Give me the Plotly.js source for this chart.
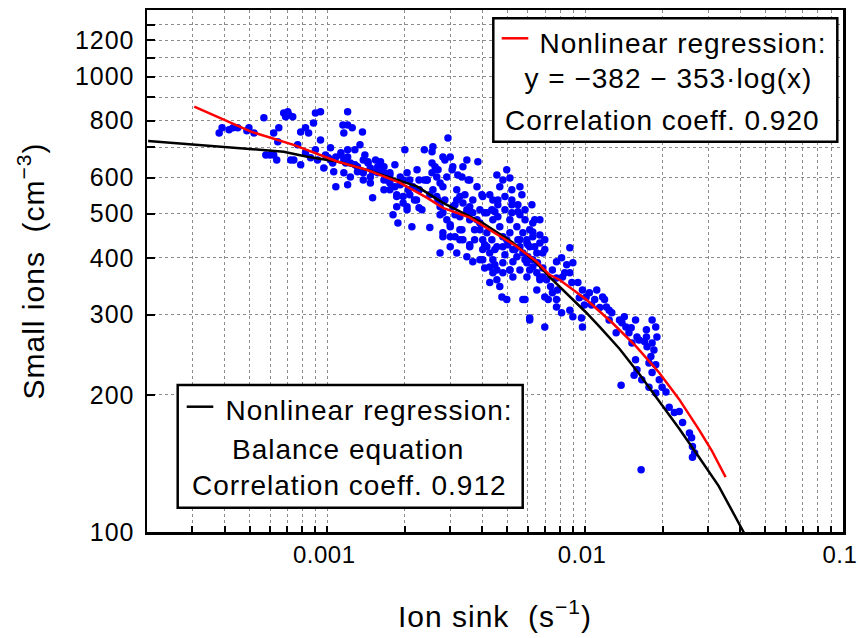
<!DOCTYPE html>
<html>
<head>
<meta charset="utf-8">
<script src="https://cdn.plot.ly/plotly-3.0.1.min.js"></script>
<style>
html,body{margin:0;padding:0;background:#fff;}
#chart{width:859px;height:638px;}
.main-svg text{letter-spacing:1px;}
.main-svg .xtick text{letter-spacing:0.5px;}
</style>
</head>
<body>
<div id="chart"></div>
<script>
// ---- scatter data: ion sink (s^-1) vs small ions (cm^-3) ----
const sinkX = [
0.000381,0.000391,0.000416,0.000431,0.00045,0.000488,0.000497,0.00052,0.000568,0.000578,
0.0006,0.00062,0.000637,0.00062,0.000643,0.000649,0.000678,0.00069,0.00071,0.000735,
0.000703,0.000768,0.000722,0.000742,0.000789,0.000789,0.000824,0.000847,0.000824,0.000862,
0.000885,0.0009,0.000942,0.000917,0.00097,0.00103,0.00105,0.00106,0.00108,0.00115,
0.00116,0.0012,0.0012,0.00125,0.0012,0.0012,0.00118,0.00116,0.0012,0.00123,
0.00131,0.00137,0.00134,0.00144,0.0015,0.00138,0.00147,0.0015,0.00161,0.00166,
0.00171,0.00175,0.0018,0.00188,0.00186,0.00197,0.00204,0.002,0.00204,0.00209,
0.00213,0.00218,0.00227,0.00233,0.00238,0.00244,0.00257,0.00255,0.00255,0.00262,
0.00266,0.00274,0.00281,0.00294,0.00281,0.00286,0.003,0.00307,0.00318,0.00336,
0.00348,0.00384,0.0025,0.00281,0.003,0.00327,0.00348,0.00367,0.00357,0.00391,
0.00416,0.00455,0.00467,0.0048,0.00497,0.00511,0.0052,0.00559,0.00569,0.00427,
0.00416,0.00439,0.00467,0.0048,0.00511,0.00544,0.00574,0.0061,0.0061,0.0065,
0.00427,0.00455,0.00467,0.00476,0.00497,0.00439,0.00574,0.0061,0.0065,0.00686,
0.00348,0.00367,0.00391,0.00318,0.00401,0.0048,0.00525,0.00559,0.00313,0.00333,
0.00373,0.00408,0.00447,0.00489,0.00535,0.00585,0.00357,0.00327,0.003,0.00274,
0.00391,0.00435,0.00502,0.00549,0.006,0.00459,0.0052,0.00585,0.00638,0.00668,
0.00408,0.00511,0.00447,0.00373,0.00313,0.00286,0.0025,0.00227,0.00209,0.00192,
0.00175,0.00161,0.00154,0.0014,0.00128,0.00113,0.00101,0.0009,0.000942,0.00128,
0.00183,0.00223,0.00269,0.00342,0.00398,0.00352,0.00321,0.00559,0.00622,0.00698,
0.00627,0.00638,0.00698,0.00595,0.0065,0.00686,0.00585,0.0061,0.00698,0.0072,
0.00811,0.00849,0.00873,0.00834,0.00775,0.00782,0.00775,0.00775,0.00811,0.00889,
0.00938,0.00873,0.00897,0.00969,0.00977,0.0095,0.00994,0.0104,0.0106,0.0109,
0.0114,0.0119,0.0124,0.0124,0.0132,0.0139,0.0142,0.0151,0.0157,0.0159,
0.0173,0.0182,0.0188,0.019,0.017,0.0174,0.018,0.0188,0.0157,0.0159,
0.0155,0.0166,0.0177,0.0188,0.0206,0.0199,0.0138,0.0212,0.0222,0.0232,
0.0239,0.0254,0.0259,0.0261,0.0266,0.0261,0.0165,0.00447,0.00439,
0.00138,0.00144,0.00147,0.00157,0.00166,0.00175,0.00166,0.00186,0.00197,0.00204,
0.00186,0.00222,0.00227,0.00244,0.00257,0.00266,0.00274,0.00281,0.00291,0.003,
0.00307,0.00318,0.00327,0.00336,0.00348,0.00357,0.00367,0.00381,0.00391,0.00401,
0.00416,0.00427,0.00439,0.00455,0.0048,0.00497,0.00511,0.00525,0.00544,0.00559,
0.00595,0.00627,0.00668,0.00686,0.00401,0.00427,0.00455,0.0048,0.00511,0.00525,
0.00595,0.00627,0.00668,0.00357,0.00336,0.00327,0.00313,0.003,0.00281,0.00274,
0.00408,0.00435,0.00459,0.00489,0.0052,0.00549,0.00585,0.00627,0.00668,0.00459,
0.00489,0.0052,0.00549,0.00401,0.00381,0.00357,0.00333,0.00305,0.00291,0.00269,
0.00255,0.00238,0.00227,0.00215,0.00206,0.00197,0.00192,0.00183,0.00175,0.00166,
0.00157,0.00147,0.00138,0.00131,0.00123,0.00116,0.00113,0.00108,0.00103,0.000985,
0.00559,0.00595,0.00574,0.006,0.00627,0.00654,0.0061,0.00668,0.00709,0.00735,
0.00747,0.00698,0.00747,0.00775,0.00818,0.00873,0.00897,0.00977,0.0101,0.0111,
0.0117,0.0121,0.0127,0.0136,0.0144,0.0148,0.0152,0.0162,0.0173,0.0182,
0.0185,0.0177,0.0182,0.0194
];
const ionsY = [
752,772,764,772,772,760,772,752,812,673,
673,673,656,752,719,772,832,816,824,816,
837,708,656,656,640,756,772,752,680,663,
791,832,837,656,630,698,646,618,573,783,
752,837,783,772,691,666,646,615,579,602,
618,756,708,650,618,593,584,542,650,615,
593,564,497,477,550,545,518,691,615,593,
468,536,515,510,691,593,701,684,646,634,
602,584,573,733,666,656,666,634,564,634,
656,650,466,454,445,492,502,536,485,477,
454,608,573,593,624,599,564,573,550,550,
502,485,468,445,485,468,454,461,423,410,
353,358,346,328,324,371,324,295,340,363,
402,392,396,410,417,390,392,376,523,461,
438,427,417,406,417,396,427,438,473,497,
510,438,427,438,427,523,523,510,485,449,
380,376,386,461,497,536,550,564,550,579,
608,624,656,673,691,673,663,691,726,640,
640,624,536,550,550,593,608,497,523,438,
456,423,417,390,371,380,324,292,282,324,
400,386,421,371,361,340,324,312,303,353,
353,307,297,295,282,327,315,335,315,324,
311,324,307,292,274,288,297,281,292,268,
278,292,282,268,262,255,243,233,239,227,
221,216,208,202,203,208,210,188,183,184,
174,165,161,154,149,146,137,505,536,
656,646,630,615,593,584,564,545,528,510,
518,536,564,593,564,545,518,502,485,468,
518,536,545,528,510,518,502,485,461,438,
423,410,396,423,423,438,454,417,402,423,
438,445,431,410,396,382,376,371,376,363,
363,382,358,423,438,461,445,423,445,410,
502,510,492,510,502,505,485,477,485,536,
545,536,523,545,573,593,602,624,602,624,
615,593,593,573,564,593,602,573,615,634,
634,602,615,634,646,656,680,666,656,673,
438,431,410,402,396,390,376,363,358,346,
335,328,376,392,363,371,390,340,328,340,
328,312,303,292,282,274,260,264,268,260,
251,235,224,216
];

// ---- nonlinear regression y = -382 - 353*log(x) ----
const redX = [0.000305,0.000506,0.000741,0.001093,0.001427,0.001919,0.002432,0.002812,0.003575,0.004271,
              0.005414,0.006469,0.00728,0.007958,0.01011,0.01275,0.01574,0.01936,0.02312,0.02762,0.031,0.033,0.0351];
const redY = [859,757,708,651,624,584,542,515,490,461,
              424,393,367,358,324,288,256,224,196,168,151,141,132];

// ---- nonlinear regression: balance equation ----
const blackX = [0.000202,0.000376,0.000678,0.000837,0.001093,0.001427,0.002226,0.002812,0.004014,0.005241,
                0.006486,0.00728,0.0087,0.01012,0.0114,0.0136,0.0162,0.0194,0.0232,0.0276,0.033,0.0412,0.0471];
const blackY = [722,702,684,667,651,624,574,528,477,432,
                390,363,329,303,282,252.6,222.6,194.2,168.6,146.3,126.1,100,86.9];

// ---- axis ticks ----
const xTickVals = [0.001, 0.01, 0.1];
const xTickText = ['0.001', '0.01', '0.1'];
const xMinorVals = [0.0003,0.0004,0.0005,0.0006,0.0007,0.0008,0.0009,
                    0.002,0.003,0.004,0.005,0.006,0.007,0.008,0.009,
                    0.02,0.03,0.04,0.05,0.06,0.07,0.08,0.09];
const yTickVals = [100,200,300,400,500,600,800,1000,1200];
const yTickText = ['100','200','300','400','500','600','800','1000','1200'];
const yMinorVals = [700,900,1100,1300];

const legendRed = ['Nonlinear regression:', 'y = \u2212382 \u2212 353\u00b7log(x)', 'Correlation coeff. 0.920'];
const legendBlack = ['Nonlinear regression:', 'Balance equation', 'Correlation coeff. 0.912'];

const FONT = 'Liberation Sans, Arial, Helvetica, sans-serif';

const traces = [
  {x: sinkX, y: ionsY, type: 'scatter', mode: 'markers',
   marker: {color: '#0000ff', size: 7.5}, showlegend: false, hoverinfo: 'skip'},
  {x: blackX, y: blackY, type: 'scatter', mode: 'lines',
   line: {color: '#000000', width: 2.5}, showlegend: false, hoverinfo: 'skip'},
  {x: redX, y: redY, type: 'scatter', mode: 'lines',
   line: {color: '#ff0000', width: 2.5}, showlegend: false, hoverinfo: 'skip'}
];

// plot area: left 147 px, right 843 px, top 10 px, bottom 532 px
const PL = 147, PR = 843, PT = 10, PB = 532;
const px = v => (v - PL) / (PR - PL);
const py = v => (PB - v) / (PB - PT);

const GRID = {showgrid: true, gridcolor: '#8c8c8c', gridwidth: 1, griddash: 'dot'};

const layout = {
  width: 859, height: 638,
  margin: {l: PL, r: 859 - PR, t: PT, b: 638 - PB, pad: 0},
  paper_bgcolor: '#ffffff', plot_bgcolor: '#ffffff',
  font: {family: FONT, color: '#000000', size: 25},
  showlegend: false,
  xaxis: Object.assign({
    type: 'log', range: [Math.log10(0.0002), -0.9995], autorange: false,
    tickmode: 'array', tickvals: xTickVals, ticktext: xTickText,
    ticks: 'inside', ticklen: 6, tickwidth: 2, tickcolor: '#000',
    tickfont: {family: FONT, size: 24, color: '#000'}, ticklabelstandoff: 0,
    ticklabelshift: -3, ticklabeloverflow: 'allow',
    minor: Object.assign({tickmode: 'array', tickvals: xMinorVals, ticks: 'inside',
      ticklen: 6, tickwidth: 2, tickcolor: '#000'}, GRID),
    showline: true, linewidth: 2.5, linecolor: '#000', mirror: true,
    zeroline: false,
    title: {text: 'Ion sink\u00a0\u00a0(s<sup>\u22121</sup>)', font: {family: FONT, size: 30, color: '#000'}, standoff: 39}
  }, GRID),
  yaxis: Object.assign({
    type: 'log', range: [2, Math.log10(1400)], autorange: false,
    tickmode: 'array', tickvals: yTickVals, ticktext: yTickText,
    ticks: 'inside', ticklen: 8, tickwidth: 2, tickcolor: '#000',
    tickfont: {family: FONT, size: 25, color: '#000'}, ticklabelstandoff: 5,
    minor: Object.assign({tickmode: 'array', tickvals: yMinorVals, ticks: 'inside',
      ticklen: 8, tickwidth: 2, tickcolor: '#000'}, GRID),
    showline: true, linewidth: 2.5, linecolor: '#000', mirror: true,
    zeroline: false,
    title: {text: 'Small ions\u00a0\u00a0(cm<sup>\u22123</sup>)', font: {family: FONT, size: 30, color: '#000'}, standoff: 26}
  }, GRID),
  shapes: [
    {type: 'rect', xref: 'paper', yref: 'paper', x0: px(493.3), x1: px(837.3), y0: py(141.7), y1: py(18.3),
     line: {color: '#000', width: 2.5}, fillcolor: '#ffffff', layer: 'above'},
    {type: 'line', xref: 'paper', yref: 'paper', x0: px(501.7), x1: px(528.3), y0: py(38.3), y1: py(38.3),
     line: {color: '#ff0000', width: 2.5}, layer: 'above'},
    {type: 'rect', xref: 'paper', yref: 'paper', x0: px(177.7), x1: px(522.7), y0: py(507.7), y1: py(385),
     line: {color: '#000', width: 2.5}, fillcolor: '#ffffff', layer: 'above'},
    {type: 'line', xref: 'paper', yref: 'paper', x0: px(186.7), x1: px(213.3), y0: py(406.7), y1: py(406.7),
     line: {color: '#000', width: 2.5}, layer: 'above'}
  ],
  annotations: [
    {xref: 'paper', yref: 'paper', x: px(548), y: py(43.6), xanchor: 'left', yanchor: 'middle',
     text: legendRed[0], showarrow: false, font: {family: FONT, size: 28, color: '#000'}},
    {xref: 'paper', yref: 'paper', x: px(668), y: py(78.6), xanchor: 'center', yanchor: 'middle',
     text: legendRed[1], showarrow: false, font: {family: FONT, size: 28, color: '#000'}},
    {xref: 'paper', yref: 'paper', x: px(662.5), y: py(120.3), xanchor: 'center', yanchor: 'middle',
     text: legendRed[2], showarrow: false, font: {family: FONT, size: 28, color: '#000'}},
    {xref: 'paper', yref: 'paper', x: px(234), y: py(410.3), xanchor: 'left', yanchor: 'middle',
     text: legendBlack[0], showarrow: false, font: {family: FONT, size: 28, color: '#000'}},
    {xref: 'paper', yref: 'paper', x: px(347.5), y: py(449.3), xanchor: 'center', yanchor: 'middle',
     text: legendBlack[1], showarrow: false, font: {family: FONT, size: 28, color: '#000'}},
    {xref: 'paper', yref: 'paper', x: px(349), y: py(485.3), xanchor: 'center', yanchor: 'middle',
     text: legendBlack[2], showarrow: false, font: {family: FONT, size: 28, color: '#000'}}
  ]
};

Plotly.newPlot('chart', traces, layout, {displayModeBar: false, staticPlot: true});
</script>
</body>
</html>
